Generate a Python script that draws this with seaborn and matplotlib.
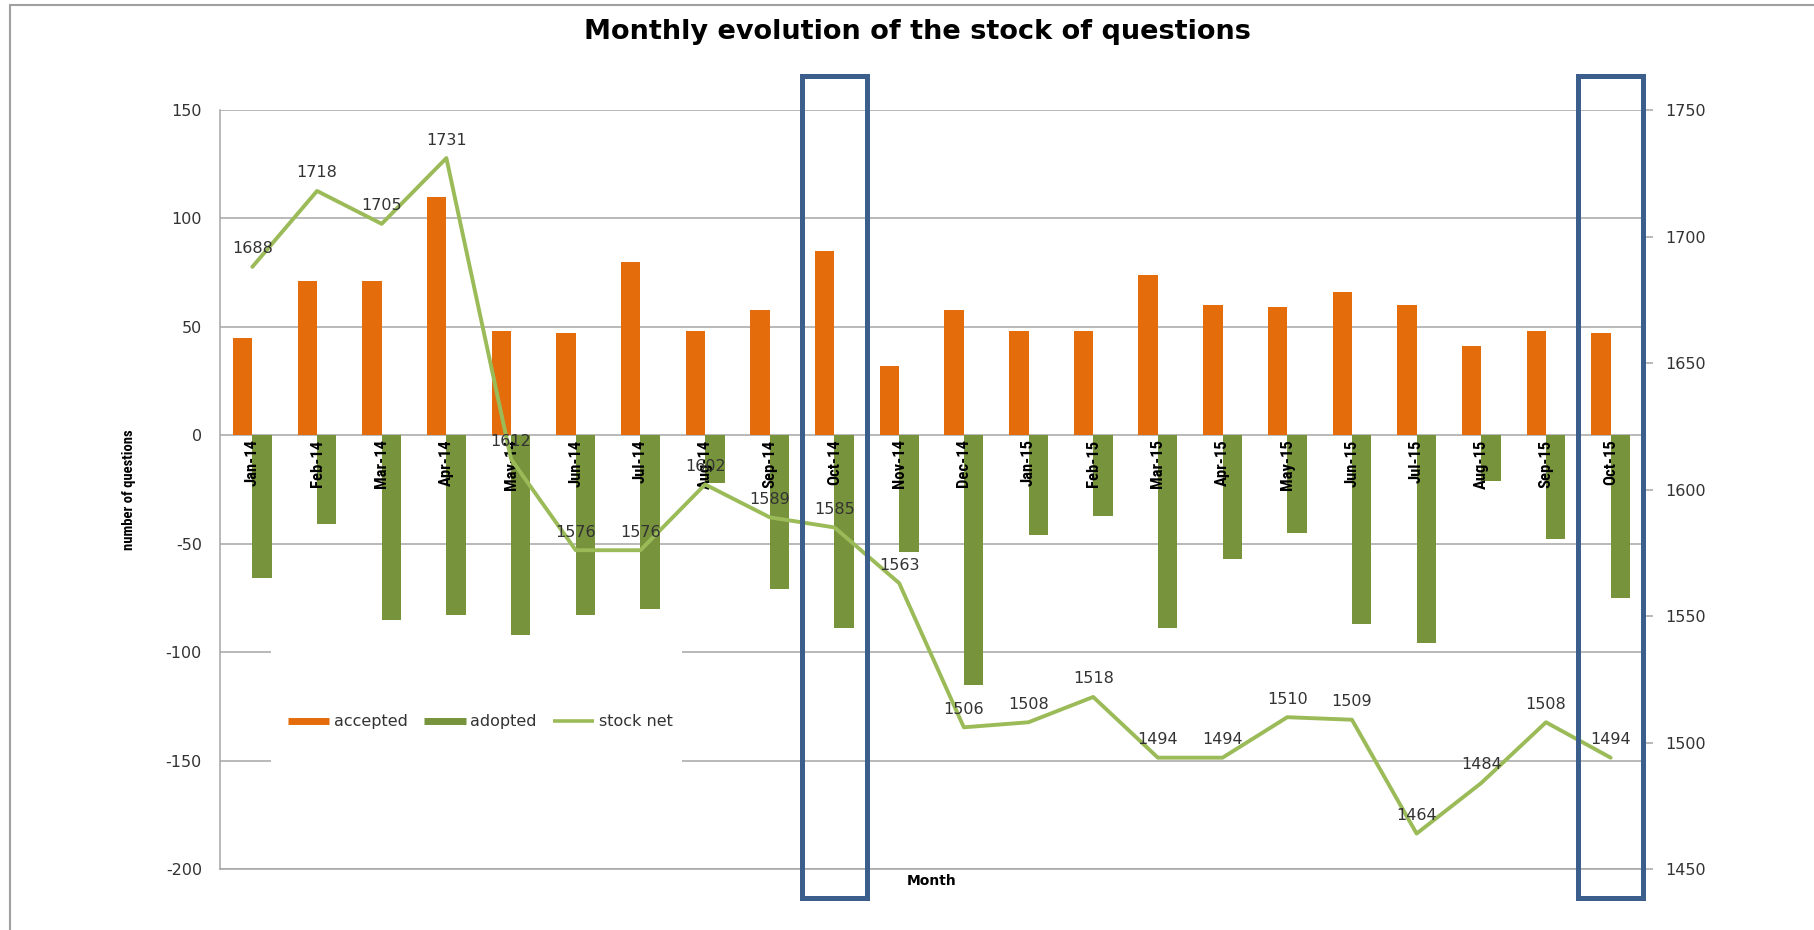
import matplotlib
matplotlib.use("Agg")
import numpy as np
import pandas as pd
import matplotlib.pyplot as plt
import seaborn as sns
from matplotlib import font_manager
from matplotlib.patches import Rectangle
from matplotlib.lines import Line2D
from matplotlib.transforms import blended_transform_factory

# Chart data
months = ["Jan-14", "Feb-14", "Mar-14", "Apr-14", "May-14", "Jun-14", "Jul-14", "Aug-14",
          "Sep-14", "Oct-14", "Nov-14", "Dec-14", "Jan-15", "Feb-15", "Mar-15", "Apr-15",
          "May-15", "Jun-15", "Jul-15", "Aug-15", "Sep-15", "Oct-15"]
accepted = [45, 71, 71, 110, 48, 47, 80, 48, 58, 85, 32, 58, 48, 48, 74, 60, 59, 66, 60, 41, 48, 47]
adopted = [-66, -41, -85, -83, -92, -83, -80, -22, -71, -89, -54, -115, -46, -37, -89, -57,
           -45, -87, -96, -21, -48, -75]
stock_net = [1688, 1718, 1705, 1731, 1612, 1576, 1576, 1602, 1589, 1585, 1563, 1506, 1508,
             1518, 1494, 1494, 1510, 1509, 1464, 1484, 1508, 1494]
highlighted = ["Oct-14", "Oct-15"]

ORANGE = "#E46C0A"
GREEN = "#77933C"
LINE = "#9BBB59"
BLUE = "#3B5E8C"
GRID = "#A6A6A6"
TXT = "#333333"

sns.set_theme(style="white")
plt.rcParams["font.family"] = ["DejaVu Sans"]
plt.rcParams["axes.unicode_minus"] = False

installed = {f.name for f in font_manager.fontManager.ttflist}
narrow = next((f for f in ["Liberation Sans Narrow", "Roboto Condensed", "Open Sans Condensed",
                           "Liberation Sans"] if f in installed), "DejaVu Sans")

df = pd.DataFrame({
    "month": months * 2,
    "value": accepted + adopted,
    "series": ["accepted"] * len(months) + ["adopted"] * len(months),
})

fig = plt.figure(figsize=(18.14, 9.3), dpi=100)
ax = fig.add_axes([220 / 1814, 61 / 930, 1423 / 1814, 759 / 930])

sns.barplot(data=df, x="month", y="value", hue="series", order=months,
            palette={"accepted": ORANGE, "adopted": GREEN}, width=0.6, gap=0,
            saturation=1, linewidth=0, legend=False, ax=ax, zorder=2)

ax.set_xlim(-0.5, len(months) - 0.5)
ax.set_ylim(-200, 150)
ax.set_yticks(range(-200, 151, 50))
ax.set_xticks([])
ax.yaxis.grid(True, color=GRID, lw=1.1)
ax.set_axisbelow(True)
ax.tick_params(axis="y", length=0, pad=13, labelsize=11.5, labelcolor=TXT)
for side in ["top", "right"]:
    ax.spines[side].set_visible(False)
for side in ["left", "bottom"]:
    ax.spines[side].set_color(GRID)
    ax.spines[side].set_linewidth(1.1)

ax.set_ylabel("number of questions", fontsize=10.5, fontweight="bold", family=[narrow, "DejaVu Sans"],
              color="black")
ax.yaxis.set_label_coords(-0.059, 0.5)
ax.set_xlabel("Month", fontsize=10, fontweight="bold", color="black")
ax.xaxis.set_label_coords(0.5, -0.006)

# month labels sit just under the zero line
for i, m in enumerate(months):
    ax.annotate(m, (i, 0), xytext=(0, -3), textcoords="offset points", rotation=90,
                ha="center", va="top", fontsize=12, fontweight="bold",
                family=[narrow, "DejaVu Sans"], color="black", zorder=5)

# legend with a white patch that breaks the gridlines
ax.add_patch(Rectangle((0.036, 0.13), 0.289, 0.165, transform=ax.transAxes,
                       facecolor="white", edgecolor="none", zorder=1))
handles = [Line2D([], [], color=ORANGE, lw=5, solid_capstyle="butt"),
           Line2D([], [], color=GREEN, lw=5, solid_capstyle="butt"),
           Line2D([], [], color=LINE, lw=2.6, solid_capstyle="butt")]
ax.legend(handles, ["accepted", "adopted", "stock net"], loc="center",
          bbox_to_anchor=(0.183, 0.194), ncol=3, frameon=False, fontsize=11.5,
          handlelength=2.6, handletextpad=0.3, columnspacing=1.0, labelcolor=TXT)

# secondary axis: stock net line
ax2 = ax.twinx()
sns.lineplot(x=np.arange(len(months)), y=stock_net, ax=ax2, color=LINE, lw=2.8, sort=False)
ax2.set_xlim(-0.5, len(months) - 0.5)
ax2.set_ylim(1450, 1750)
ax2.set_yticks(range(1450, 1751, 50))
ax2.set_ylabel("")
ax2.tick_params(axis="y", length=7, width=1.1, color=GRID, pad=9, labelsize=11.5, labelcolor=TXT)
for side in ["top", "left", "bottom"]:
    ax2.spines[side].set_visible(False)
ax2.spines["right"].set_color(GRID)

for i, v in enumerate(stock_net):
    ax2.annotate(str(v), (i, v), xytext=(0, 13), textcoords="offset points",
                 ha="center", va="center", fontsize=11.5, color=TXT)

# highlight boxes around the October columns
trans = blended_transform_factory(ax2.transData, ax2.transAxes)
for m in highlighted:
    idx = months.index(m)
    ax2.add_patch(Rectangle((idx - 0.5, -0.038), 1, 1.083, transform=trans, fill=False,
                            edgecolor=BLUE, lw=3.6, clip_on=False, zorder=10))

fig.text(917 / 1814, 1 - 32 / 930, "Monthly evolution of the stock of questions",
         ha="center", va="center", fontsize=19.5, fontweight="bold", color="black")

# chart frame (top and left edges)
fig.add_artist(Line2D([10 / 1814, 10 / 1814], [0, 1 - 5 / 930], transform=fig.transFigure,
                      color="#A0A0A0", lw=1.5))
fig.add_artist(Line2D([10 / 1814, 1], [1 - 5 / 930, 1 - 5 / 930], transform=fig.transFigure,
                      color="#A0A0A0", lw=1.5))

fig.savefig("out.png", dpi=100)
